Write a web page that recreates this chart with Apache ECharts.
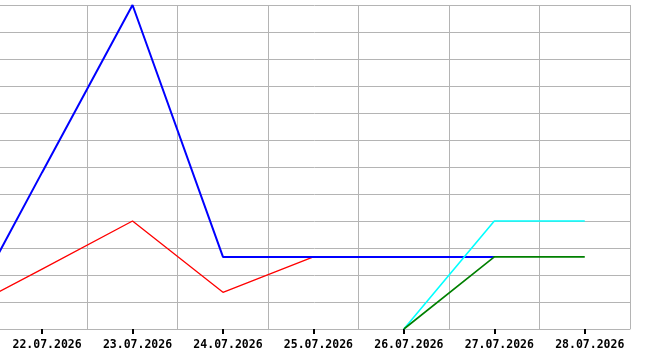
<!DOCTYPE html>
<html>
<head>
<meta charset="utf-8">
<script src="https://cdn.jsdelivr.net/npm/echarts@6/dist/echarts.min.js"></script>
<style>
  html, body { margin: 0; padding: 0; background: #fff; }
  #chart { width: 670px; height: 350px; }
</style>
</head>
<body>
<div id="chart"></div>
<script>
// first day lies left of the visible area, only its line segments show
const days = ['21.07.2026', '22.07.2026', '23.07.2026', '24.07.2026', '25.07.2026', '26.07.2026', '27.07.2026', '28.07.2026']
const blueValues = [-0.45, 5.8, 12, 2.67, 2.67, 2.67, 2.67, null]
const redValues = [0.45, 2.22, 4, 1.36, 2.67, null, null, null]
const cyanValues = [null, null, null, null, null, 0, 4, 4]
const greenValues = [null, null, null, null, null, 0, 2.67, 2.67]

const gridColor = '#b4b4b4'

function lineSeries(data, color, width) {
  return {
    type: 'line',
    data: data,
    symbol: 'none',
    connectNulls: false,
    lineStyle: { color: color, width: width },
    emphasis: { disabled: true }
  }
}

const myChart = echarts.init(document.getElementById('chart'))
myChart.setOption({
  animation: false,
  grid: { left: -93.6, right: 40, top: 5, bottom: 21, containLabel: false, outerBoundsMode: 'none' },
  xAxis: {
    type: 'category',
    data: days,
    boundaryGap: true,
    axisLine: { show: true, lineStyle: { color: gridColor, width: 1 } },
    axisTick: { show: true, alignWithLabel: true, length: 5, lineStyle: { color: '#000', width: 2 } },
    axisLabel: {
      interval: 0,
      color: '#000',
      fontFamily: 'DejaVu Sans Mono',
      fontWeight: 'bold',
      fontSize: 11.5,
      margin: 10,
      padding: [0, 0, 0, 10]
    },
    splitLine: { show: true, lineStyle: { color: gridColor, width: 1 } }
  },
  yAxis: {
    type: 'value',
    min: 0,
    max: 12,
    interval: 1,
    axisLine: { show: false },
    axisTick: { show: false },
    axisLabel: { show: false },
    splitLine: { show: true, lineStyle: { color: gridColor, width: 1 } }
  },
  series: [
    lineSeries(redValues, '#ff0000', 1.3),
    lineSeries(blueValues, '#0000ff', 2),
    lineSeries(cyanValues, '#00ffff', 1.6),
    lineSeries(greenValues, '#008000', 1.6)
  ]
})
</script>
</body>
</html>
